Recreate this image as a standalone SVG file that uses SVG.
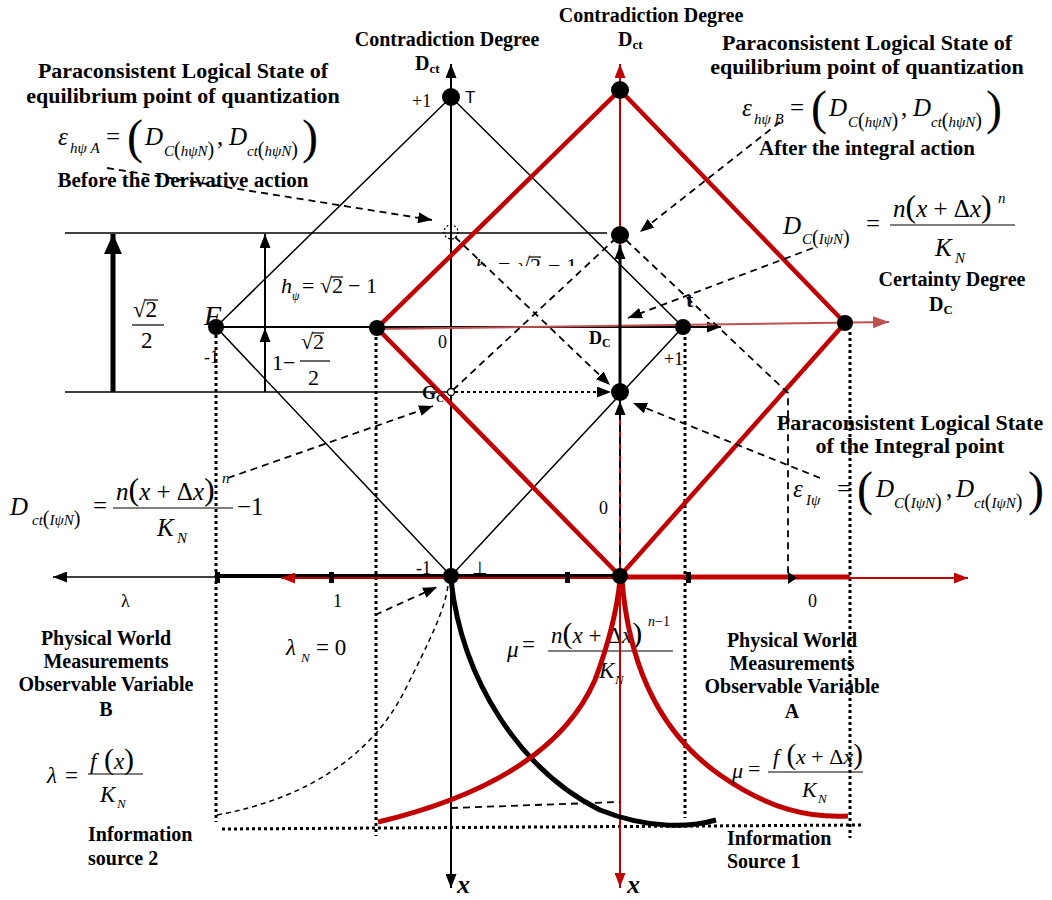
<svg xmlns="http://www.w3.org/2000/svg" width="1052" height="900" viewBox="0 0 1052 900">
<style>
text{font-family:"Liberation Serif","Times New Roman",serif;fill:#000}
.t{font-weight:bold;font-size:20px}
.t21{font-weight:bold;font-size:21px}
.t22{font-weight:bold;font-size:22px}
.mid{text-anchor:middle}
.m{font-style:italic;font-size:25px}
.r{font-size:25px}
.s{font-style:italic;font-size:15px}
.n{font-size:18px}
.p{font-style:normal}
.k{stroke:#000;stroke-width:1.5;fill:none}
.k2{stroke:#000;stroke-width:2;fill:none}
.fr{stroke:#000;stroke-width:1.2}
.rd{stroke:#c00000;stroke-width:4.5;fill:none}
.rt{stroke:#c00000;stroke-width:2;fill:none}
.pk{stroke:#c0504d;stroke-width:2;fill:none}
.ds{stroke:#000;stroke-width:1.8;stroke-dasharray:7,5;fill:none}
.dt{stroke:#000;stroke-width:3;stroke-dasharray:3,3;fill:none}
.dot{fill:#000}
</style>
<defs>
<marker id="ab" viewBox="0 0 10 10" refX="10" refY="5" markerWidth="14" markerHeight="11" markerUnits="userSpaceOnUse" orient="auto" preserveAspectRatio="none"><path d="M0,0L10,5L0,10z" fill="#000"/></marker>
<marker id="abig" viewBox="0 0 10 10" refX="10" refY="5" markerWidth="20" markerHeight="18" markerUnits="userSpaceOnUse" orient="auto" preserveAspectRatio="none"><path d="M0,0L10,5L0,10z" fill="#000"/></marker>
<marker id="ar" viewBox="0 0 10 10" refX="10" refY="5" markerWidth="14" markerHeight="11" markerUnits="userSpaceOnUse" orient="auto" preserveAspectRatio="none"><path d="M0,0L10,5L0,10z" fill="#c00000"/></marker>
<marker id="ap" viewBox="0 0 10 10" refX="10" refY="5" markerWidth="16" markerHeight="12" markerUnits="userSpaceOnUse" orient="auto" preserveAspectRatio="none"><path d="M0,0L10,5L0,10z" fill="#c0504d"/></marker>
<clipPath id="clipH"><rect x="460" y="240" width="130" height="26"/></clipPath>
</defs>
<rect width="1052" height="900" fill="#fff"/>

<!-- guide lines -->
<g id="guides">
<line class="k" x1="65" y1="233" x2="607" y2="233"/>
<line class="k" x1="65" y1="392" x2="451" y2="392"/>
<line x1="113" y1="392" x2="113" y2="234" stroke="#000" stroke-width="5" marker-end="url(#abig)"/>
<line class="k2" x1="265" y1="327" x2="265" y2="234" marker-end="url(#ab)"/>
<line class="k2" x1="265" y1="392" x2="265" y2="328" marker-end="url(#ab)"/>
<line class="dt" x1="216" y1="335" x2="216" y2="822"/>
<line class="dt" x1="376" y1="337" x2="376" y2="836"/>
<line class="dt" x1="685" y1="337" x2="685" y2="818"/>
<line class="dt" x1="850" y1="332" x2="850" y2="838"/>
<line class="dt" x1="222" y1="829" x2="862" y2="825"/>
</g>

<!-- text behind curves -->
<g id="f-mu1">
<text class="m" x="507" y="657" style="font-size:23px">μ</text>
<text class="r" x="522" y="652" style="font-size:23px">=</text>
<text class="m" x="551" y="643" style="font-size:23px">n<tspan class="p" style="font-size:30px">(</tspan>x<tspan class="p"> + Δ</tspan>x<tspan class="p" style="font-size:30px">)</tspan></text>
<text class="s" x="648" y="626" style="font-size:14px">n<tspan class="p">−1</tspan></text>
<line class="fr" x1="548" y1="651" x2="673" y2="651"/>
<text class="m" x="599" y="678" style="font-size:23px">K</text>
<text class="s" x="615" y="684" style="font-size:13px">N</text>
</g>

<!-- lattices -->
<g id="lattice-black">
<polygon class="k" points="451,97 683,327 451,576 216,327"/>
</g>

<g id="axes">
<line class="rt" x1="620" y1="888" x2="620" y2="64" marker-end="url(#ar)"/>
<line class="rt" x1="620" y1="100" x2="620" y2="887" marker-end="url(#ar)"/>
<line class="k2" x1="451" y1="100" x2="451" y2="64" marker-end="url(#ab)"/>
<line class="k2" x1="451" y1="90" x2="451" y2="888" marker-end="url(#ab)"/>
<line class="k2" x1="216" y1="327" x2="721" y2="327" marker-end="url(#ab)"/>
<line class="pk" x1="377" y1="329" x2="889" y2="322" marker-end="url(#ap)"/>
<line class="k" x1="216" y1="577" x2="53" y2="577" marker-end="url(#ab)"/>
<line x1="218" y1="576" x2="620" y2="576" stroke="#000" stroke-width="4"/>
<line x1="620" y1="577" x2="850" y2="577" stroke="#c00000" stroke-width="5"/>
<line class="rt" x1="620" y1="578" x2="281" y2="578" marker-end="url(#ar)"/>
<line class="rt" x1="620" y1="578" x2="968" y2="578" marker-end="url(#ar)"/>
<rect x="215" y="572" width="5" height="11" fill="#000"/>
<rect x="329" y="572" width="5" height="11" fill="#000"/>
<rect x="565" y="572" width="5" height="11" fill="#000"/>
<rect x="686" y="572" width="5" height="11" fill="#000"/>
</g>

<g id="lattice-red">
<polygon class="rd" points="620,90 845,323 620,576 377,328"/>
</g>

<g id="curves">
<path d="M451,580 C462,680 520,770 600,810 C650,830 692,827 716,820" stroke="#000" stroke-width="5" fill="none"/>
<path d="M378,822 C470,800 560,760 595,680 C610,640 617,610 620,580" stroke="#c00000" stroke-width="5" fill="none"/>
<path d="M622,580 C630,680 670,740 720,775 C770,810 810,818 848,816" stroke="#c00000" stroke-width="5" fill="none"/>
<path class="k" style="stroke-dasharray:5,4" d="M217,815 C300,800 370,760 405,690 C430,640 445,610 448,585"/>
</g>

<!-- connectors -->
<g id="connectors">
<line class="ds" x1="107" y1="168" x2="432" y2="220" marker-end="url(#ab)"/>
<line class="ds" x1="780" y1="122" x2="640" y2="232" marker-end="url(#ab)"/>
<line class="ds" x1="813" y1="248" x2="628" y2="318" marker-end="url(#ab)"/>
<line class="ds" x1="820" y1="478" x2="633" y2="403" marker-end="url(#ab)"/>
<line class="ds" x1="228" y1="478" x2="433" y2="406" marker-end="url(#ab)"/>
<line class="ds" x1="375" y1="615" x2="437" y2="587" marker-end="url(#ab)"/>
<line class="ds" x1="455" y1="237" x2="610" y2="385" marker-end="url(#ab)"/>
<line class="ds" x1="453" y1="390" x2="614" y2="240"/>
<polyline class="ds" points="626,240 788,393 788,577"/>
<path d="M788,572 L797,578 L788,584 z" fill="#000"/>
<line class="ds" x1="451" y1="808" x2="620" y2="802"/>
<line stroke="#000" stroke-width="2" stroke-dasharray="3,3" x1="455" y1="392" x2="611" y2="392" marker-end="url(#ab)"/>
<line class="ds" x1="620" y1="576" x2="620" y2="401" marker-end="url(#ab)"/>
<line stroke="#000" stroke-width="3" x1="620" y1="392" x2="620" y2="245" marker-end="url(#ab)"/>
</g>

<!-- points -->
<g id="pt-T"><circle class="dot" cx="451" cy="97" r="9"/><text class="n" x="412" y="107">+1</text><text x="465" y="103" style="font-family:'Liberation Sans',Arial,sans-serif;font-size:17px">T</text></g>
<g id="pt-F"><circle class="dot" cx="216" cy="327" r="8"/><text class="m" x="204" y="325" style="font-size:28px">F</text><text class="n" x="204" y="363">-1</text></g>
<g id="pt-redleft"><circle class="dot" cx="377" cy="328" r="8"/></g>
<g id="pt-t"><circle class="dot" cx="683" cy="327" r="8"/><text class="t" x="686" y="307" style="font-size:22px">t</text><text class="n" x="664" y="365">+1</text></g>
<g id="pt-redright"><circle class="dot" cx="845" cy="323" r="8"/></g>
<g id="pt-redtop"><circle class="dot" cx="620" cy="90" r="9"/></g>
<g id="pt-hB"><circle class="dot" cx="620" cy="235" r="9"/></g>
<g id="pt-I"><circle class="dot" cx="620" cy="392" r="9"/></g>
<g id="pt-bottom"><circle class="dot" cx="451" cy="576" r="8"/><text class="n" x="416" y="574">-1</text><text class="n" x="472" y="574">⊥</text></g>
<g id="pt-redbottom"><circle class="dot" cx="620" cy="576" r="8"/><text class="n" x="599" y="514">0</text></g>
<g id="pt-hA"><circle cx="451" cy="232" r="7" fill="none" stroke="#000" stroke-width="1.2" stroke-dasharray="2,2"/></g>
<g id="pt-G"><circle cx="451" cy="392" r="3.5" fill="#fff" stroke="#000" stroke-width="1.3"/><text class="t" x="422" y="399" style="font-size:18px">G<tspan style="font-size:11px" dy="3">C</tspan></text></g>
<g id="pt-origin"><text class="n" x="438" y="348">0</text><text class="t" x="589" y="344" style="font-size:18px">D<tspan style="font-size:12px" dy="3">C</tspan></text></g>

<!-- height labels -->
<g id="lbl-sqrt2-2">
<text class="r" x="133" y="317" style="font-size:23px">√2</text>
<line class="fr" x1="145" y1="300" x2="158" y2="300"/>
<line class="fr" x1="132" y1="325" x2="164" y2="325"/>
<text class="r" x="141" y="348" style="font-size:23px">2</text>
</g>
<g id="lbl-hpsi">
<text class="m" x="281" y="293" style="font-size:22px">h</text>
<text class="s" x="292" y="300" style="font-size:12px">ψ</text>
<text class="r" x="302" y="293" style="font-size:22px">=</text>
<text class="r" x="320" y="293" style="font-size:22px">√2</text>
<line class="fr" x1="331" y1="277" x2="343" y2="277"/>
<text class="r" x="348" y="293" style="font-size:22px">− 1</text>
</g>
<g id="lbl-hpsi2" clip-path="url(#clipH)">
<text class="m" x="475" y="273" style="font-size:22px">h</text>
<text class="r" x="498" y="273" style="font-size:22px">=</text>
<text class="r" x="518" y="273" style="font-size:22px">√2</text>
<line class="fr" x1="529" y1="257" x2="541" y2="257"/>
<text class="r" x="548" y="273" style="font-size:22px">− 1</text>
</g>
<g id="lbl-1m">
<text class="r" x="272" y="370" style="font-size:22px">1−</text>
<text class="r" x="301" y="349" style="font-size:22px">√2</text>
<line class="fr" x1="312" y1="333" x2="324" y2="333"/>
<line class="fr" x1="300" y1="361" x2="330" y2="361"/>
<text class="r" x="308" y="385" style="font-size:22px">2</text>
</g>

<!-- axis titles -->
<g id="title-dct-black">
<text class="t mid" x="447" y="46">Contradiction Degree</text>
<text class="t" x="415" y="70">D<tspan style="font-size:13px" dy="3">ct</tspan></text>
</g>
<g id="title-dct-red">
<text class="t mid" x="651" y="22">Contradiction Degree</text>
<text class="t" x="618" y="46">D<tspan style="font-size:13px" dy="3">ct</tspan></text>
</g>
<g id="title-dc">
<text class="t mid" x="952" y="286">Certainty Degree</text>
<text class="t" x="929" y="311">D<tspan style="font-size:13px" dy="3">C</tspan></text>
</g>
<g id="axis-labels">
<text class="n" x="121" y="607">λ</text>
<text class="n" x="333" y="607">1</text>
<text class="n" x="808" y="607">0</text>
<text class="m" x="457" y="893" style="font-weight:bold;font-size:26px">x</text>
<text class="m" x="627" y="893" style="font-weight:bold;font-size:26px">x</text>
</g>

<!-- left top state -->
<g id="state-hA">
<text class="t22 mid" x="183" y="78">Paraconsistent Logical State of</text>
<text class="t22 mid" x="183" y="103">equilibrium point of quantization</text>
<text class="m" x="58" y="145">ε</text>
<text class="s" x="70" y="153">hψ A</text>
<text class="r" x="106" y="145">=</text>
<text class="r" x="127" y="153" style="font-size:48px">(</text>
<text class="m" x="145" y="145">D</text>
<text class="s" x="164" y="156">C<tspan class="p" style="font-size:20px">(</tspan>hψN<tspan class="p" style="font-size:20px">)</tspan></text>
<text class="r" x="217" y="145">,</text>
<text class="m" x="229" y="145">D</text>
<text class="s" x="247" y="156">ct<tspan class="p" style="font-size:20px">(</tspan>hψN<tspan class="p" style="font-size:20px">)</tspan></text>
<text class="r" x="302" y="153" style="font-size:48px">)</text>
<text class="t21 mid" x="183" y="187">Before the Derivative action</text>
</g>

<!-- right top state -->
<g id="state-hB">
<text class="t22 mid" x="867" y="50">Paraconsistent Logical State of</text>
<text class="t22 mid" x="867" y="74">equilibrium point of quantization</text>
<g transform="translate(684,-29)">
<text class="m" x="58" y="145">ε</text>
<text class="s" x="70" y="153">hψ B</text>
<text class="r" x="106" y="145">=</text>
<text class="r" x="127" y="153" style="font-size:48px">(</text>
<text class="m" x="145" y="145">D</text>
<text class="s" x="164" y="156">C<tspan class="p" style="font-size:20px">(</tspan>hψN<tspan class="p" style="font-size:20px">)</tspan></text>
<text class="r" x="217" y="145">,</text>
<text class="m" x="229" y="145">D</text>
<text class="s" x="247" y="156">ct<tspan class="p" style="font-size:20px">(</tspan>hψN<tspan class="p" style="font-size:20px">)</tspan></text>
<text class="r" x="302" y="153" style="font-size:48px">)</text>
</g>
<text class="t21 mid" x="867" y="155">After the integral action</text>
</g>

<!-- D_C(IψN) -->
<g id="f-dc">
<text class="m" x="783" y="234">D</text>
<text class="s" x="802" y="244">C<tspan class="p" style="font-size:20px">(</tspan>IψN<tspan class="p" style="font-size:20px">)</tspan></text>
<text class="r" x="866" y="232">=</text>
<text class="m" x="893" y="217">n<tspan class="p" style="font-size:32px">(</tspan>x<tspan class="p"> + Δ</tspan>x<tspan class="p" style="font-size:32px">)</tspan></text>
<text class="s" x="998" y="203">n</text>
<line class="fr" x1="890" y1="225" x2="1015" y2="225"/>
<text class="m" x="935" y="256">K</text>
<text class="s" x="955" y="263">N</text>
</g>

<!-- integral state -->
<g id="state-I">
<text class="t22 mid" x="910" y="430">Paraconsistent Logical State</text>
<text class="t22 mid" x="910" y="453">of the Integral point</text>
<text class="m" x="793" y="497">ε</text>
<text class="s" x="806" y="505">Iψ</text>
<text class="r" x="837" y="497">=</text>
<text class="r" x="857" y="505" style="font-size:48px">(</text>
<text class="m" x="876" y="497">D</text>
<text class="s" x="894" y="508">C<tspan class="p" style="font-size:20px">(</tspan>IψN<tspan class="p" style="font-size:20px">)</tspan></text>
<text class="r" x="946" y="497">,</text>
<text class="m" x="956" y="497">D</text>
<text class="s" x="974" y="508">ct<tspan class="p" style="font-size:20px">(</tspan>IψN<tspan class="p" style="font-size:20px">)</tspan></text>
<text class="r" x="1028" y="505" style="font-size:48px">)</text>
</g>

<!-- D_ct(IψN) -->
<g id="f-dct">
<text class="m" x="10" y="515">D</text>
<text class="s" x="32" y="525">ct<tspan class="p" style="font-size:20px">(</tspan>IψN<tspan class="p" style="font-size:20px">)</tspan></text>
<text class="r" x="93" y="514">=</text>
<text class="m" x="116" y="500">n<tspan class="p" style="font-size:32px">(</tspan>x<tspan class="p"> + Δ</tspan>x<tspan class="p" style="font-size:32px">)</tspan></text>
<text class="s" x="222" y="483">n</text>
<line class="fr" x1="113" y1="508" x2="233" y2="508"/>
<text class="m" x="157" y="536">K</text>
<text class="s" x="177" y="543">N</text>
<text class="r" x="237" y="515">−1</text>
</g>

<!-- source B -->
<g id="source-B">
<text class="t mid" x="106" y="645">Physical World</text>
<text class="t mid" x="106" y="668">Measurements</text>
<text class="t mid" x="106" y="691">Observable Variable</text>
<text class="t mid" x="106" y="716">B</text>
<text class="m" x="47" y="783" style="font-size:23px">λ</text>
<text class="r" x="65" y="783" style="font-size:23px">=</text>
<text class="m" x="90" y="769" style="font-size:23px">f<tspan class="p" style="font-size:30px"> (</tspan>x<tspan class="p" style="font-size:30px">)</tspan></text>
<line class="fr" x1="88" y1="774" x2="143" y2="774"/>
<text class="m" x="100" y="802" style="font-size:23px">K</text>
<text class="s" x="117" y="808" style="font-size:13px">N</text>
<text class="t" x="88" y="841">Information</text>
<text class="t" x="88" y="865">source 2</text>
</g>

<g id="lambdaN">
<text class="m" x="286" y="655" style="font-size:23px">λ</text>
<text class="s" x="301" y="662" style="font-size:13px">N</text>
<text class="r" x="316" y="655" style="font-size:23px">= 0</text>
</g>

<!-- source A -->
<g id="source-A">
<text class="t mid" x="792" y="647">Physical World</text>
<text class="t mid" x="792" y="670">Measurements</text>
<text class="t mid" x="792" y="693">Observable Variable</text>
<text class="t mid" x="792" y="718">A</text>
<text class="m" x="732" y="778" style="font-size:22px">μ</text>
<text class="r" x="748" y="776" style="font-size:22px">=</text>
<text class="m" x="773" y="764" style="font-size:22px">f<tspan class="p" style="font-size:29px"> (</tspan>x<tspan class="p"> + Δ</tspan>x<tspan class="p" style="font-size:29px">)</tspan></text>
<line class="fr" x1="768" y1="772" x2="863" y2="772"/>
<text class="m" x="802" y="797" style="font-size:22px">K</text>
<text class="s" x="818" y="803" style="font-size:13px">N</text>
<text class="t" x="727" y="845">Information</text>
<text class="t" x="727" y="868">Source 1</text>
</g>
</svg>
